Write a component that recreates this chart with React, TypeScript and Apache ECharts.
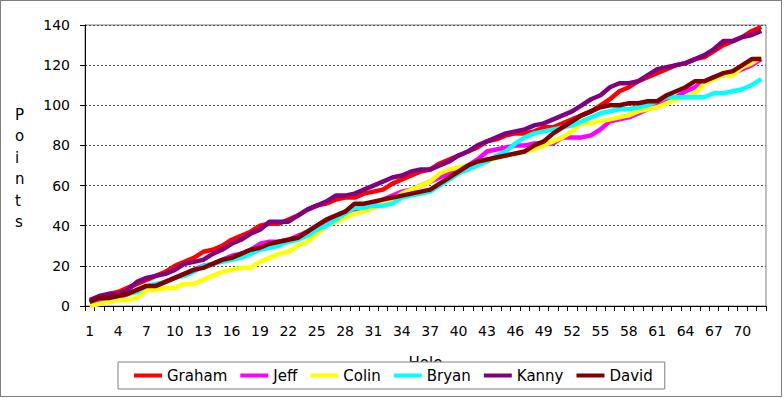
import React, { useEffect, useRef } from "react";
import * as echarts from "echarts";

const holes: string[] = Array.from({ length: 72 }, (_, i) => String(i + 1));

const graham = [2,4,6,7,9,11,13,15,17,20,22,24,27,28,30,33,35,37,40,41,41,43,45,48,50,51,53,54,54,56,57,58,61,63,65,67,68,71,73,75,77,79,82,83,85,86,86,87,89,89,91,93,95,97,100,103,107,109,112,114,116,118,120,121,123,124,127,130,132,134,137,139];
const jeff = [2,3,4,4,6,8,9,10,12,14,16,18,20,21,23,25,26,28,31,32,32,33,35,37,39,42,43,45,47,49,51,53,55,57,58,60,62,64,66,68,70,73,77,78,79,80,80,81,81,81,84,84,84,85,88,92,93,94,96,98,100,102,104,107,109,112,114,115,116,118,120,123];
const colin = [0,1,2,3,3,4,8,8,9,9,11,11,13,15,17,18,19,19,22,24,26,27,30,32,36,40,42,44,46,47,49,51,53,56,58,60,62,66,68,69,70,71,72,74,75,76,77,78,80,82,84,87,91,91,92,93,94,95,97,98,99,101,103,104,106,111,113,115,115,119,121,124];
const bryan = [2,4,4,5,6,7,10,11,12,14,15,17,20,21,22,23,24,26,28,29,30,32,33,35,38,40,43,46,49,49,50,50,51,54,55,56,57,60,63,66,68,70,72,75,77,81,84,86,87,88,89,90,92,94,96,97,98,98,99,100,102,104,104,104,104,104,106,106,107,108,110,113];
const kanny = [3,5,6,6,8,12,14,15,16,18,21,22,23,26,28,31,33,36,38,42,42,42,45,48,50,52,55,55,56,58,60,62,64,65,67,68,68,70,72,75,77,80,82,84,86,87,88,90,91,93,95,97,100,103,105,109,111,111,112,115,118,119,120,121,123,125,128,132,132,134,135,137];
const david = [2,4,4,5,6,8,10,10,12,14,16,18,19,21,23,24,26,28,29,31,32,33,34,37,40,43,45,47,51,51,52,53,54,55,56,57,58,61,64,67,70,72,73,74,75,76,77,80,82,86,89,92,95,97,99,100,100,101,101,102,102,105,107,109,112,112,114,116,117,120,123,123];

const seriesNames = ["Graham", "Jeff", "Colin", "Bryan", "Kanny", "David"];
const seriesData = [graham, jeff, colin, bryan, kanny, david];
const seriesColors = ["#ff0000", "#ff00ff", "#ffff00", "#00ffff", "#800080", "#800000"];
const yTitle = "P\no\ni\nn\nt\ns";

const FONT = "DejaVu Sans";

export default function App() {
  const ref = useRef<HTMLDivElement>(null);
  useEffect(() => {
    document.body.style.margin = "0";
    if (!ref.current) return;
    const chart = echarts.init(ref.current, undefined, { renderer: "svg" });
    chart.setOption({
      animation: false,
      backgroundColor: "#ffffff",
      textStyle: { fontFamily: FONT },
      grid: {
        left: 85,
        right: 18,
        top: 25,
        bottom: 92,
        show: true,
        borderColor: "#808080",
        borderWidth: 1,
      },
      legend: {
        data: seriesNames,
        left: 118,
        top: 362,
        padding: [6, 12, 6, 16],
        itemGap: 13,
        itemWidth: 28,
        itemHeight: 4,
        icon: "rect",
        borderColor: "#808080",
        borderWidth: 1,
        backgroundColor: "#ffffff",
        textStyle: { fontFamily: FONT, fontSize: 15, color: "#000" },
        z: 10,
      },
      xAxis: {
        type: "category",
        data: holes,
        boundaryGap: true,
        name: "Hole",
        nameLocation: "middle",
        nameGap: 49,
        nameTextStyle: { fontFamily: FONT, fontSize: 15, color: "#000", verticalAlign: "top" },
        axisLine: { lineStyle: { color: "#000", width: 1 } },
        axisTick: { show: true, length: 5, interval: 0, lineStyle: { color: "#000" } },
        axisLabel: { interval: 2, margin: 18, fontFamily: FONT, fontSize: 14, color: "#000" },
        splitLine: { show: false },
      },
      yAxis: {
        type: "value",
        min: 0,
        max: 140,
        interval: 20,
        axisLine: { show: true, lineStyle: { color: "#000", width: 1 } },
        axisTick: { show: true, length: 5, lineStyle: { color: "#000" } },
        axisLabel: { margin: 15, fontFamily: FONT, fontSize: 14, color: "#000" },
        splitLine: { show: true, lineStyle: { color: "#555", type: [2, 2], width: 1 } },
      },
      series: seriesNames.map((name, i) => ({
        name,
        type: "line",
        data: seriesData[i],
        symbol: "none",
        showSymbol: false,
        color: seriesColors[i],
        lineStyle: { color: seriesColors[i], width: 4.5 },
        itemStyle: { color: seriesColors[i] },
      })),
      graphic: [
        {
          type: "text",
          left: 15,
          top: 104,
          style: {
            text: yTitle,
            fontFamily: FONT,
            fontSize: 15,
            fill: "#000",
            lineHeight: 21.5,
            align: "center",
          },
          silent: true,
        },
        {
          type: "rect",
          shape: { x: 0.5, y: 0.5, width: 781, height: 396 },
          style: { fill: "none", stroke: "#000", lineWidth: 1, lineDash: [1, 1] },
          silent: true,
          z: 100,
        },
      ],
    });
    return () => chart.dispose();
  }, []);
  return <div ref={ref} style={{ width: 784, height: 398 }} />;
}
